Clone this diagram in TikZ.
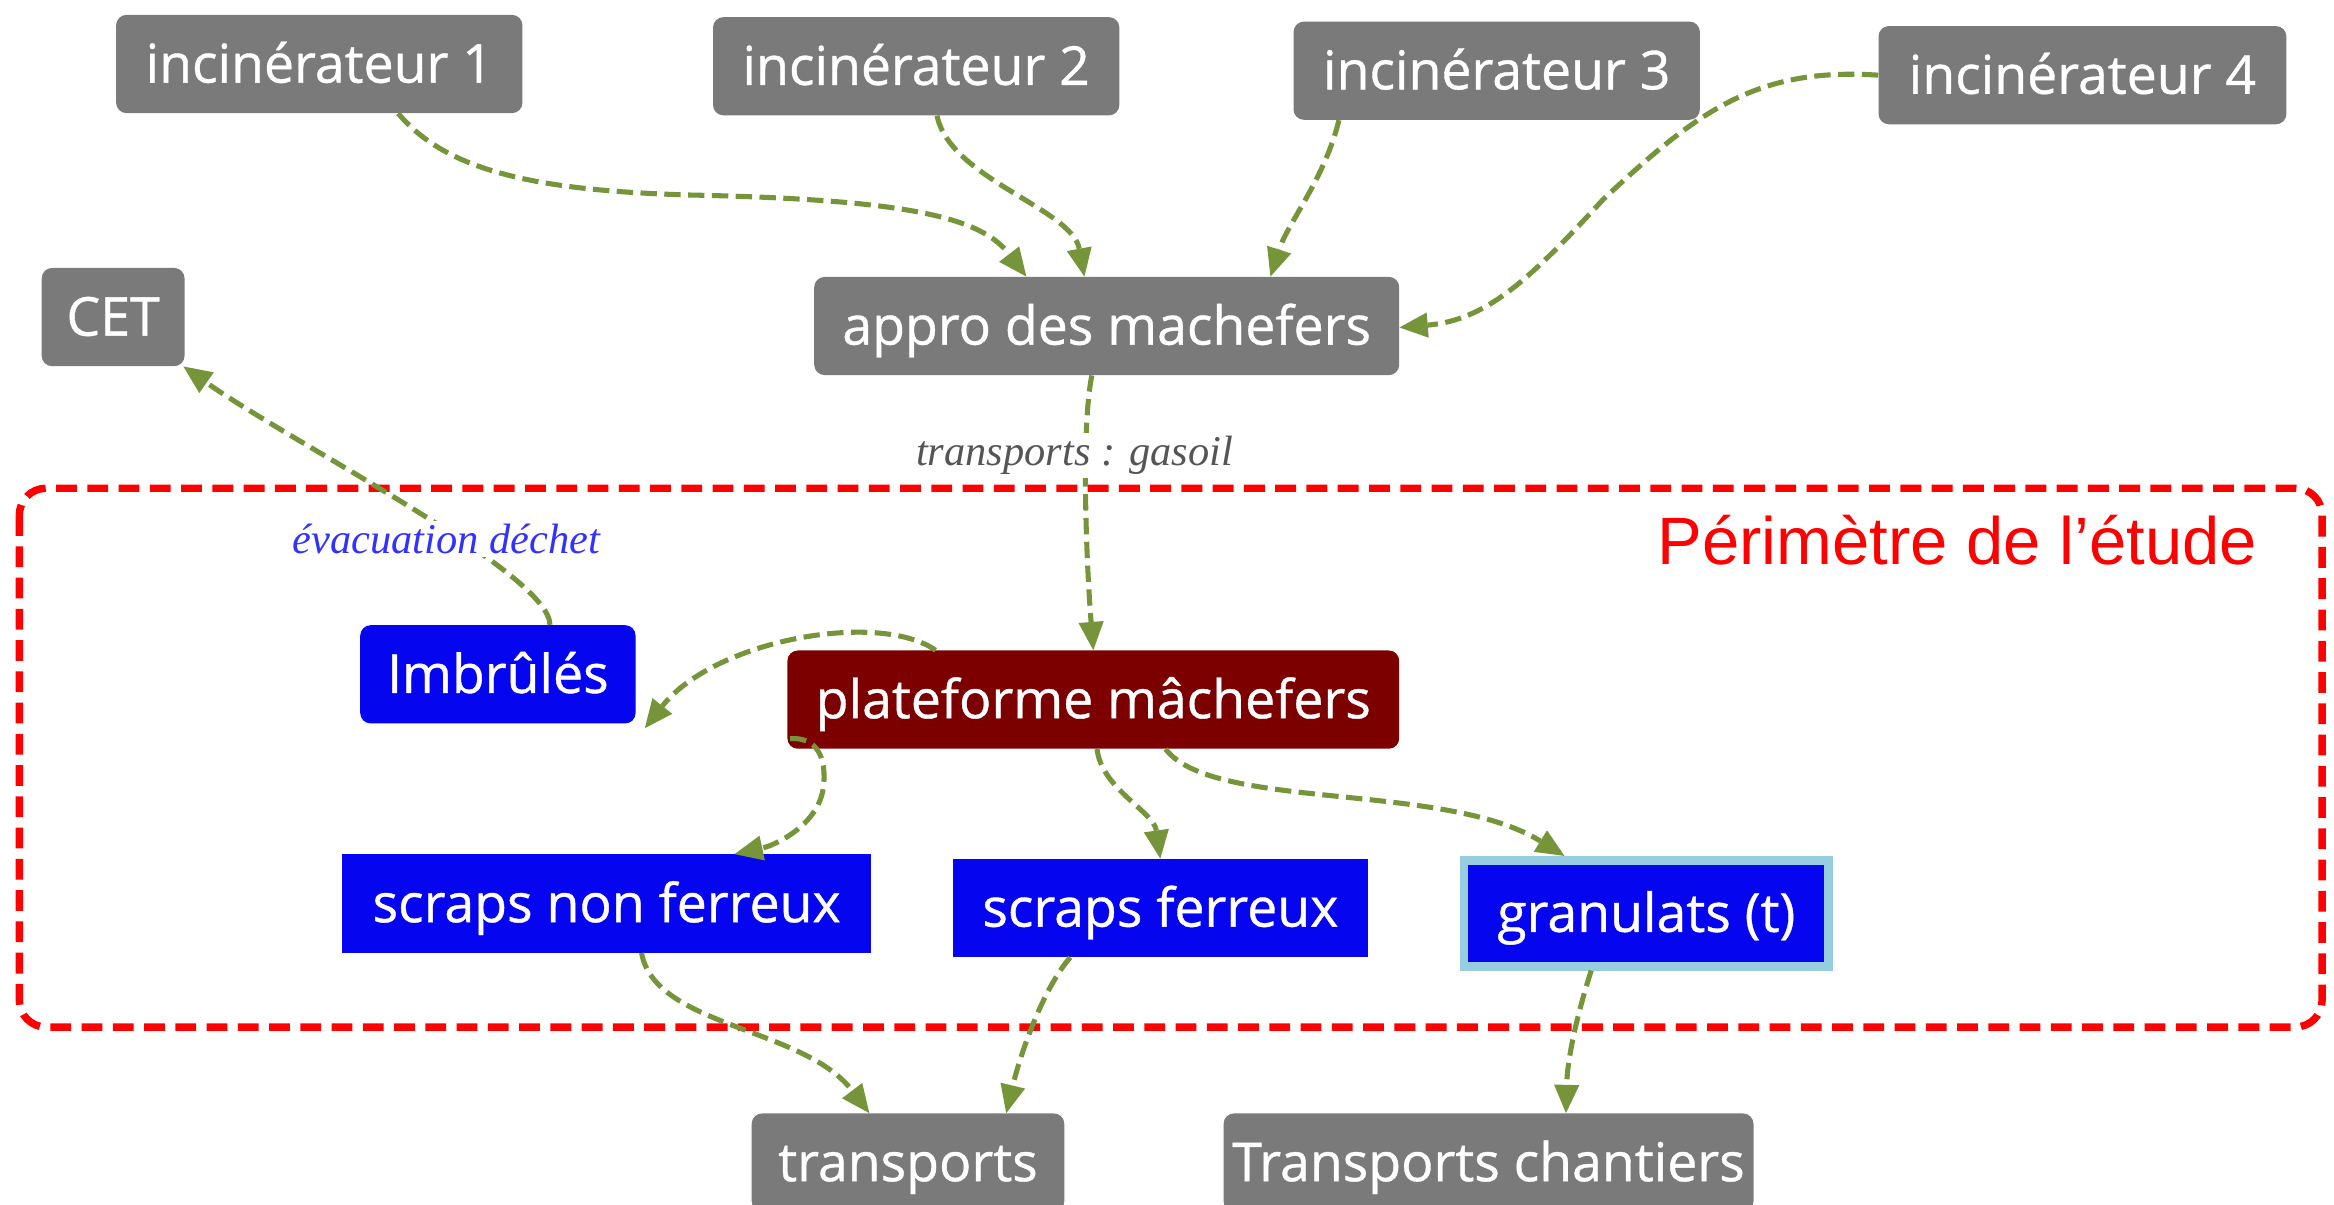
\documentclass[tikz,border=0pt]{standalone}
\usepackage{fontspec}
\newfontfamily\osans[FakeBold=0.7]{Open Sans}
\newfontfamily\lsans{Liberation Sans}
\newfontfamily\lserif{Liberation Serif}
\usetikzlibrary{arrows.meta}
\definecolor{boxgray}{RGB}{122,122,122}
\definecolor{boxblue}{RGB}{5,5,240}
\definecolor{boxred}{RGB}{125,0,0}
\definecolor{lightframe}{RGB}{150,205,225}
\definecolor{flowgreen}{RGB}{118,148,58}
\definecolor{labelgray}{RGB}{85,85,85}
\definecolor{labelblue}{RGB}{50,50,255}
\begin{document}
\begin{tikzpicture}[x=1pt,y=-1pt,
  box/.style={inner sep=0pt, minimum height=66pt, text=white,
    font=\osans\fontsize{36}{40}\selectfont, text height=30.5pt, text depth=5.5pt},
  graybox/.style={box, fill=boxgray, rounded corners=7pt},
  blueround/.style={box, fill=boxblue, rounded corners=7pt},
  bluerect/.style={box, fill=boxblue},
  redbox/.style={box, fill=boxred, rounded corners=7pt},
  flow/.style={draw=flowgreen, line width=3.4pt, dash pattern=on 11pt off 5pt,
    -{Triangle[length=19pt,width=17pt,line width=0pt]}},
  edgelabel/.style={fill=white, inner sep=2pt, font=\lserif\itshape\fontsize{28.5}{32}\selectfont}
]
\useasboundingbox (0,0) rectangle (1568,809);
\clip (0,0) rectangle (1568,809);
\fill[white] (0,0) rectangle (1568,809);

% study perimeter frame
\draw[red, line width=5pt, dash pattern=on 14pt off 7pt, rounded corners=18pt]
  (13,328) rectangle (1560,690);
\node[text=red, font=\lsans\fontsize{45}{50}\selectfont, inner sep=0pt] (perim) at (1315,363) {Périmètre de l’étude};

% nodes
\node[graybox, minimum width=273pt] (inc1) at (214.5,43) {incinérateur 1};
\node[graybox, minimum width=273pt] (inc2) at (615.5,44.5) {incinérateur 2};
\node[graybox, minimum width=273pt] (inc3) at (1005.5,47.5) {incinérateur 3};
\node[graybox, minimum width=274pt] (inc4) at (1399,50.5) {incinérateur 4};
\node[graybox, minimum width=96pt] (cet) at (76,213) {CET};
\node[graybox, minimum width=393pt] (appro) at (743.5,219) {appro des machefers};
\node[blueround, minimum width=185pt] (imb) at (334.5,453) {Imbrûlés};
\node[redbox, minimum width=411pt] (plat) at (734.5,470) {plateforme mâchefers};
\node[bluerect, minimum width=355pt] (snf) at (407.5,607) {scraps non ferreux};
\node[bluerect, minimum width=279pt] (sf) at (779.5,610) {scraps ferreux};
\node[bluerect, draw=lightframe, line width=6pt, minimum width=245pt, minimum height=71pt] (gran) at (1106,613.5) {granulats (t)};
\node[graybox, minimum width=210pt] (transp) at (610,781) {transports};
\node[graybox, minimum width=356pt] (tchant) at (1000,781) {Transports chantiers};

% connectors
\draw[flow] ([xshift=53pt]inc1.south) .. controls (300,115) and (360,128) .. (463,131)
  .. controls (610,134) and (659,146) .. ([xshift=-54pt]appro.north);
\draw[flow] ([xshift=14pt]inc2.south) .. controls (638,120) and (720,140) .. ([xshift=-15pt]appro.north);
\draw[flow] ([xshift=-106pt]inc3.south) .. controls (890,120) and (865,150) .. ([xshift=110pt]appro.north);
\draw[flow] (inc4.west) .. controls (1180,45) and (1140,75) .. (1077,134)
  .. controls (1030,185) and (1000,215) .. ([yshift=-1pt]appro.east);
\draw[flow] ([xshift=-10pt]appro.south) .. controls (726,290) and (730,380) .. (plat.north);
\node[edgelabel, text=labelgray] (gasoil) at (722,306) {transports : gasoil};

\draw[flow] ([xshift=35pt]imb.north) .. controls (369,385) and (200,300) .. ([xshift=-1pt]cet.south east);
\node[edgelabel, text=labelblue] (evac) at (300,362) {évacuation déchet};

\draw[flow] ([xshift=-106pt]plat.north) .. controls (590,410) and (480,430) .. ([xshift=6pt,yshift=-3pt]imb.south east);
\draw[flow] ([xshift=2pt,yshift=7pt]plat.south west) .. controls (548,495) and (556,508) .. (553,530)
  .. controls (549,555) and (520,568) .. ([xshift=86pt]snf.north);
\draw[flow] ([xshift=2.5pt]plat.south) .. controls (740,530) and (775,545) .. (sf.north);
\draw[flow] ([xshift=48.5pt]plat.south) .. controls (815,545) and (970,525) .. ([xshift=-55pt]gran.north);

\draw[flow] ([xshift=23.5pt]snf.south) .. controls (440,690) and (540,690) .. ([xshift=-26pt]transp.north);
\draw[flow] ([xshift=-60.5pt]sf.south) .. controls (700,665) and (685,710) .. ([xshift=66pt]transp.north);
\draw[flow] ([xshift=-37pt]gran.south) .. controls (1060,680) and (1053,710) .. ([xshift=52pt]tchant.north);
\end{tikzpicture}
\end{document}
